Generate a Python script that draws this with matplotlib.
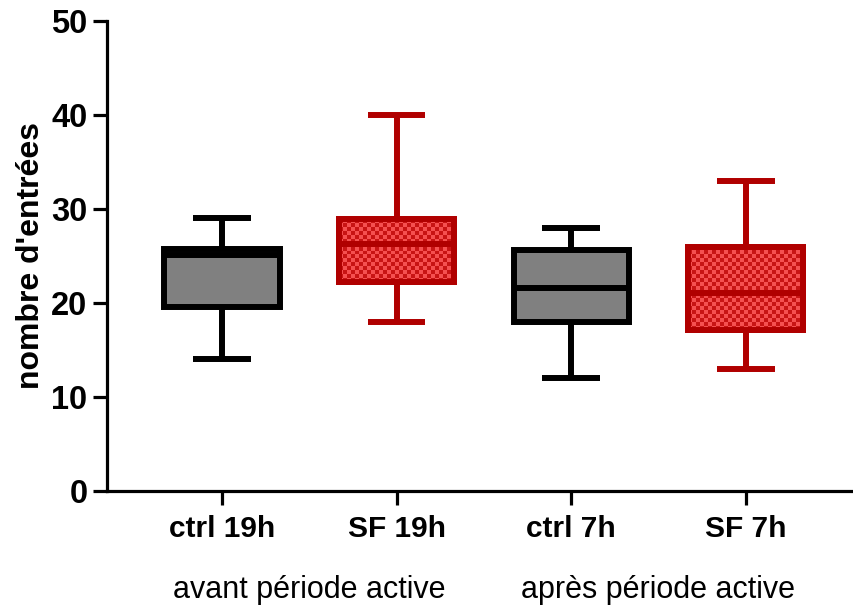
import numpy as np
import matplotlib
matplotlib.use("Agg")
from matplotlib import pyplot as plt
from matplotlib.patches import PathPatch

# box statistics (whisker min, Q1, median, Q3, whisker max)
labels = ["ctrl 19h", "SF 19h", "ctrl 7h", "SF 7h"]
whislo = [14, 18, 12, 13]
q1 = [19.6, 22.2, 18.0, 17.1]
med = [25.1, 26.3, 21.6, 21.1]
q3 = [25.7, 28.9, 25.6, 26.0]
whishi = [29, 40, 28, 33]
groups = ["avant période active", "après période active"]

plt.rcParams['font.family'] = ['Liberation Sans', 'DejaVu Sans']

black = "black"
grey = "#808080"
dark_red = "#b00000"
red_light = "#f55050"
red_dark = "#c81414"
lw = 4.3

fig = plt.figure(figsize=(8.54, 6.12), dpi=100, facecolor="w")
ax = fig.add_axes([0.1253, 0.1977, 0.8747, 0.7680])

stats = []
for i in range(4):
    stats.append(dict(label=labels[i], whislo=whislo[i], q1=q1[i], med=med[i],
                      q3=q3[i], whishi=whishi[i], fliers=[]))

pos = np.arange(1, 5)
bp = ax.bxp(stats, positions=pos, widths=0.66, patch_artist=True,
            showfliers=False, capwidths=0.33)

edge_cols = [black, dark_red, black, dark_red]
for i in range(4):
    c = edge_cols[i]
    box = bp['boxes'][i]
    box.set_linewidth(lw)
    box.set_edgecolor(c)
    box.set_zorder(2)
    if c == black:
        box.set_facecolor(grey)
    else:
        box.set_facecolor(red_light)
        # checkerboard fill clipped to the box
        x0, x1 = pos[i] - 0.33, pos[i] + 0.33
        y0, y1 = q1[i], q3[i]
        nx = 29
        ny = int(round((y1 - y0) / 0.43))
        checker = (np.add.outer(np.arange(ny), np.arange(nx)) % 2).astype(float)
        cmap = matplotlib.colors.ListedColormap([red_light, red_dark])
        im = ax.imshow(checker, extent=(x0, x1, y0, y1), origin="lower",
                       cmap=cmap, aspect="auto", interpolation="nearest", zorder=2.1)
        im.set_clip_path(box)
        ax.add_patch(PathPatch(box.get_path(), facecolor="none", edgecolor=c,
                               linewidth=lw, zorder=3))
    for j in (2 * i, 2 * i + 1):
        bp['whiskers'][j].set(color=c, linewidth=lw, solid_capstyle="butt")
        bp['caps'][j].set(color=c, linewidth=lw, solid_capstyle="butt")
    bp['medians'][i].set(color=c, linewidth=lw, zorder=3, solid_capstyle="butt")

ax.set_xlim(0.342, 4.62)
ax.set_ylim(0, 50)
ax.set_yticks([0, 10, 20, 30, 40, 50])
ax.set_xticks(pos)
ax.set_xticklabels(labels)
ax.spines['top'].set_visible(False)
ax.spines['right'].set_visible(False)
ax.spines['left'].set_linewidth(2.3)
ax.spines['bottom'].set_linewidth(2.3)
ax.tick_params(axis='both', width=2.3, length=10)
ax.tick_params(axis='y', labelsize=23.5, pad=4)
ax.tick_params(axis='x', labelsize=21.5, pad=7)
for t in ax.get_xticklabels() + ax.get_yticklabels():
    t.set_fontweight("bold")
ax.set_ylabel("nombre d'entrées", fontsize=23, fontweight="bold", labelpad=4)

ax.text(1.5, -10.5, groups[0], ha="center", va="center", fontsize=22,
        transform=ax.transData, clip_on=False)
ax.text(3.5, -10.5, groups[1], ha="center", va="center", fontsize=22,
        transform=ax.transData, clip_on=False)

fig.savefig("out.png", dpi=100)
